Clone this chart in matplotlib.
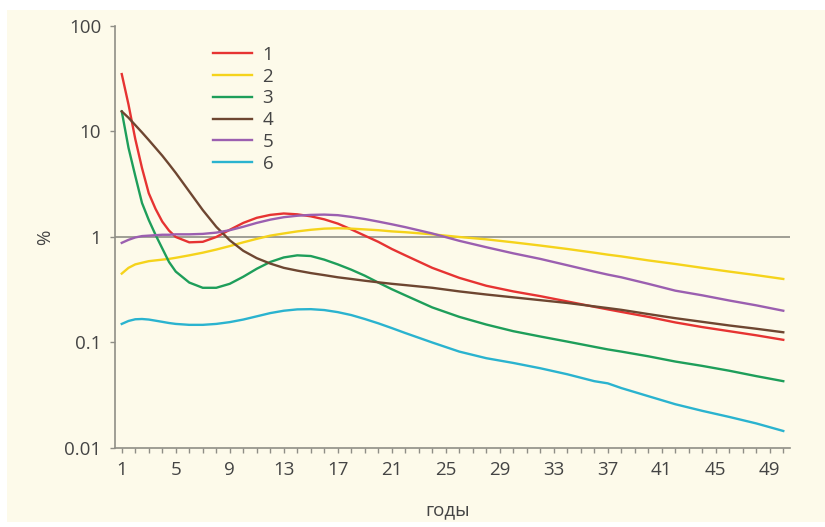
import matplotlib.pyplot as plt
from matplotlib.patches import Rectangle
from matplotlib.ticker import FixedLocator, NullLocator

plt.rcParams['font.family'] = ['Open Sans', 'DejaVu Sans']

years = [1, 1.5, 2, 2.5, 3, 3.5, 4, 4.5, 5, 6, 7, 8, 9, 10, 11, 12, 13, 14, 15, 16,
         17, 18, 19, 20, 21, 22, 24, 26, 28, 30, 32, 34, 36, 37, 38, 40, 42, 44, 46, 48, 50]

s1 = [35, 18, 8.5, 4.5, 2.6, 1.85, 1.4, 1.15, 1.0, 0.89, 0.9, 1.0, 1.17, 1.36, 1.52, 1.62,
      1.67, 1.64, 1.57, 1.47, 1.34, 1.18, 1.03, 0.9, 0.77, 0.67, 0.51, 0.41, 0.345, 0.305,
      0.275, 0.245, 0.218, 0.206, 0.195, 0.175, 0.155, 0.14, 0.128, 0.117, 0.106]
s2 = [0.45, 0.51, 0.55, 0.57, 0.59, 0.6, 0.61, 0.62, 0.635, 0.67, 0.71, 0.76, 0.82, 0.89,
      0.96, 1.03, 1.08, 1.13, 1.17, 1.2, 1.21, 1.2, 1.18, 1.16, 1.13, 1.11, 1.06, 1.0, 0.95,
      0.89, 0.83, 0.77, 0.71, 0.68, 0.655, 0.6, 0.555, 0.51, 0.47, 0.435, 0.40]
s3 = [15.5, 7.0, 3.8, 2.1, 1.45, 1.05, 0.78, 0.58, 0.47, 0.37, 0.33, 0.33, 0.36, 0.42, 0.5,
      0.58, 0.64, 0.67, 0.66, 0.61, 0.55, 0.49, 0.43, 0.37, 0.32, 0.28, 0.215, 0.175, 0.148,
      0.128, 0.114, 0.102, 0.091, 0.086, 0.082, 0.074, 0.066, 0.06, 0.054, 0.048, 0.043]
s4 = [15.5, 13.5, 11.5, 9.8, 8.3, 7.0, 5.9, 4.9, 4.05, 2.7, 1.8, 1.25, 0.93, 0.74, 0.63,
      0.56, 0.51, 0.48, 0.455, 0.435, 0.415, 0.4, 0.385, 0.372, 0.36, 0.35, 0.33, 0.305,
      0.285, 0.268, 0.252, 0.237, 0.22, 0.212, 0.204, 0.186, 0.17, 0.157, 0.145, 0.135, 0.125]
s5 = [0.88, 0.94, 0.99, 1.02, 1.03, 1.04, 1.05, 1.05, 1.06, 1.06, 1.07, 1.1, 1.16, 1.25,
      1.36, 1.46, 1.54, 1.59, 1.62, 1.63, 1.61, 1.55, 1.48, 1.4, 1.32, 1.24, 1.08, 0.92,
      0.8, 0.7, 0.62, 0.54, 0.47, 0.44, 0.415, 0.36, 0.31, 0.28, 0.25, 0.225, 0.2]
s6 = [0.15, 0.16, 0.166, 0.167, 0.165, 0.161, 0.157, 0.153, 0.15, 0.147, 0.147, 0.15, 0.156,
      0.165, 0.177, 0.19, 0.2, 0.206, 0.207, 0.203, 0.194, 0.182, 0.167, 0.152, 0.137, 0.123,
      0.1, 0.082, 0.071, 0.064, 0.057, 0.05, 0.043, 0.041, 0.037, 0.031, 0.026, 0.0225,
      0.0197, 0.0171, 0.0145]

series = [s1, s2, s3, s4, s5, s6]
names = ['1', '2', '3', '4', '5', '6']
colors = ['#e63332', '#f5d31b', '#1e9e5a', '#6e4631', '#9b5fb0', '#2ab3cf']

ytick_vals = [0.01, 0.1, 1, 10, 100]
ytick_text = ['0.01', '0.1', '1', '10', '100']
xtick_vals = list(range(1, 51))
xtick_text = [str(y) if (y - 1) % 4 == 0 else '' for y in xtick_vals]

bg = '#fdfaea'
axis_col = '#8f8e86'
text_col = '#444444'

fig = plt.figure(figsize=(8.25, 5.27), dpi=100, facecolor='white')
# cream panel with a thin white margin on the left, top and bottom
fig.patches.append(Rectangle((0.0085, 0.0095), 0.9915, 0.9715, transform=fig.transFigure,
                             facecolor=bg, edgecolor='none', zorder=-10))

ax = fig.add_axes([0.1394, 0.1499, 0.8182, 0.8008])
ax.patch.set_alpha(0)

ax.axhline(1, color=axis_col, lw=1.2, zorder=1)
for vals, name, c in zip(series, names, colors):
    ax.plot(years, vals, color=c, lw=1.7, label=name, zorder=2)

ax.set_yscale('log')
ax.set_ylim(0.01, 100)
ax.set_xlim(0.5, 50.5)

ax.yaxis.set_major_locator(FixedLocator(ytick_vals))
ax.set_yticklabels(ytick_text)
ax.yaxis.set_minor_locator(NullLocator())
ax.set_xticks(xtick_vals)
ax.set_xticklabels(xtick_text)

for side in ['top', 'right']:
    ax.spines[side].set_visible(False)
for side in ['left', 'bottom']:
    ax.spines[side].set_color(axis_col)
    ax.spines[side].set_linewidth(1.2)

ax.tick_params(axis='both', colors=axis_col, labelcolor=text_col, labelsize=13.5,
               length=3.5, width=1)
ax.tick_params(axis='y', pad=6.5)
ax.tick_params(axis='x', pad=5.5)

ax.set_ylabel('%', fontsize=13.5, color=text_col)
ax.yaxis.set_label_coords(-0.09, 0.5)
ax.text(0.493, -0.159, 'годы', transform=ax.transAxes, ha='center', va='baseline',
        fontsize=13.5, color=text_col)

ax.legend(loc='upper left', bbox_to_anchor=(0.145, 0.953), frameon=False, fontsize=13.5,
          handlelength=2.1, handletextpad=0.55, labelspacing=0.2, borderpad=0,
          borderaxespad=0, labelcolor=text_col)

fig.savefig('out.png', dpi=100)
